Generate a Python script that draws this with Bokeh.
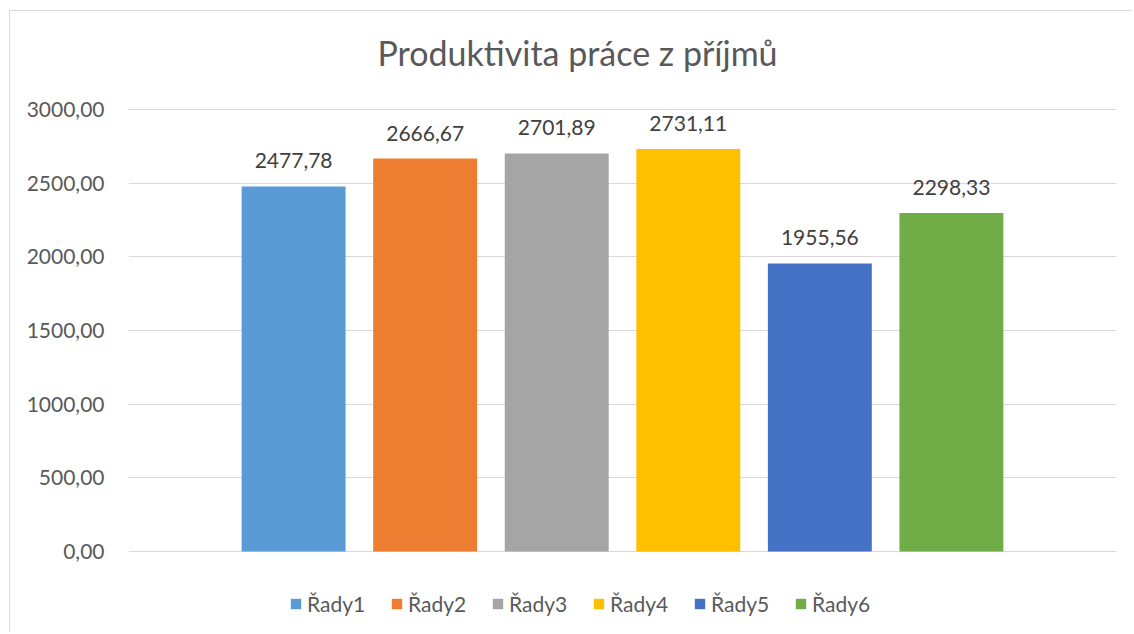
from bokeh.plotting import figure
from bokeh.models import (ColumnDataSource, Range1d, FixedTicker, Legend, LegendItem,
                          LabelSet, Label)
from bokeh.core.properties import value
from bokeh.embed import file_html
from bokeh.resources import INLINE

# ---- data ----
title_text = "Produktivita práce z příjmů"
series_names = ["Řady1", "Řady2", "Řady3", "Řady4", "Řady5", "Řady6"]
series_values = [2477.78, 2666.67, 2701.89, 2731.11, 1955.56, 2298.33]
series_colors = ["#5B9BD5", "#ED7D31", "#A5A5A5", "#FFC000", "#4472C4", "#70AD47"]
y_ticks = [0, 500, 1000, 1500, 2000, 2500, 3000]


def cz(v):
    return f"{v:.2f}".replace(".", ",")


FONT = "Lato"
TXT = "#595959"

# ---- layout (pixels) ----
W, H = 1123, 622
LEFT, RIGHT = 118, 17
PX_TOP_AXIS = 98        # px from canvas top down to the axis maximum
PX_BELOW_ZERO = 82      # px from zero line down to canvas bottom
y_max = y_ticks[-1]
plot_px = H - PX_TOP_AXIS - PX_BELOW_ZERO
u_per_px = y_max / plot_px
y_end = y_max + PX_TOP_AXIS * u_per_px
y_start = -PX_BELOW_ZERO * u_per_px

n = len(series_values)
center = (n - 1) / 2
half = 3.755

p = figure(width=W, height=H, output_backend="svg", toolbar_location=None,
           x_range=Range1d(center - half, center + half), y_range=Range1d(y_start, y_end),
           min_border_left=LEFT, min_border_right=RIGHT, min_border_top=0,
           min_border_bottom=0)
p.styles = {"margin-left": "9px", "margin-top": "10px",
            "border-left": "1px solid #d9d9d9", "border-top": "1px solid #d9d9d9"}
p.outline_line_color = None
p.background_fill_color = "white"
p.border_fill_color = "white"

p.xaxis.visible = False
p.xgrid.grid_line_color = None

p.yaxis.ticker = FixedTicker(ticks=y_ticks)
p.yaxis.major_label_overrides = {t: cz(t) for t in y_ticks}
p.yaxis.axis_line_color = None
p.yaxis.major_tick_line_color = None
p.yaxis.minor_tick_line_color = None
p.yaxis.major_tick_out = 0
p.yaxis.major_tick_in = 0
p.yaxis.major_label_standoff = 24
p.yaxis.major_label_text_font = FONT
p.yaxis.major_label_text_font_size = "21px"
p.yaxis.major_label_text_color = TXT
p.ygrid.grid_line_color = "#d9d9d9"
p.ygrid.grid_line_width = 1

items = []
for i, (name, val, col) in enumerate(zip(series_names, series_values, series_colors)):
    src = ColumnDataSource(dict(x=[i], top=[val]))
    r = p.vbar(x="x", top="top", width=0.79, source=src, fill_color=col, line_color=None)
    items.append(LegendItem(label=name, renderers=[r]))

lab_src = ColumnDataSource(dict(x=list(range(n)), y=series_values,
                                t=[cz(v) for v in series_values]))
labels = LabelSet(x="x", y="y", text="t", source=lab_src, y_offset=18,
                  text_align="center", text_baseline="alphabetic",
                  text_font=value(FONT), text_font_size=value("21px"),
                  text_color="#404040")
p.add_layout(labels)

title = Label(x=center, y=y_max, x_offset=-45, y_offset=57, text=title_text,
              text_align="center", text_baseline="alphabetic",
              text_font=FONT, text_font_size="34px", text_color=TXT)
p.add_layout(title)

legend = Legend(items=items, location=(161, 17), orientation="horizontal",
                border_line_color=None, background_fill_alpha=0, padding=0, margin=0,
                glyph_width=13, glyph_height=13, label_standoff=5, label_width=70,
                spacing=13, label_text_font=FONT, label_text_font_size="21px",
                label_text_color=TXT)
p.add_layout(legend)

open("out.html", "w").write(file_html(p, INLINE))
